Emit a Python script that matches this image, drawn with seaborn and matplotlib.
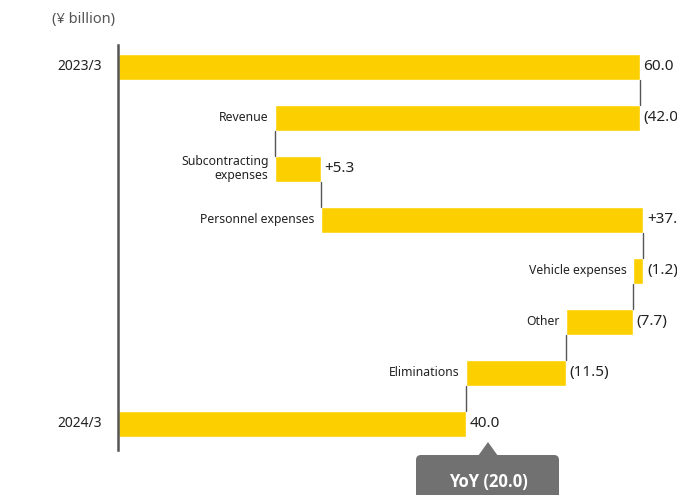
import numpy as np
import pandas as pd
import matplotlib
matplotlib.use("Agg")
import matplotlib.pyplot as plt
from matplotlib.patches import FancyBboxPatch, Polygon
import seaborn as sns

# datos del puente (¥ billion)
etiquetas = ["2023/3", "Revenue", "Subcontracting\nexpenses", "Personnel expenses",
             "Vehicle expenses", "Other", "Eliminations", "2024/3"]
valores = [60.0, -42.0, 5.3, 37.1, -1.2, -7.7, -11.5, 40.0]
textos = ["60.0", "(42.0)", "+5.3", "+37.1", "(1.2)", "(7.7)", "(11.5)", "40.0"]
es_total = [True, False, False, False, False, False, False, True]
yoy_texto = "YoY (20.0)"

# calcular inicio y fin de cada barra
inicio, fin = [], []
acum = 0.0
for v, tot in zip(valores, es_total):
    if tot:
        inicio.append(0.0)
        fin.append(v)
        acum = v
    else:
        inicio.append(acum)
        acum = acum + v
        fin.append(acum)

df = pd.DataFrame({
    "item": etiquetas,
    "alto": np.maximum(inicio, fin),
    "bajo": np.minimum(inicio, fin),
})

sns.set_theme(style="white")
plt.rcParams["font.family"] = ["Noto Sans", "DejaVu Sans"]

fig = plt.figure(figsize=(6.77, 4.95), dpi=100)
ax = fig.add_axes([118 / 677, 1 - 450 / 495, 1 - 118 / 677, (450 - 45) / 495])

amarillo = "#FCD000"
gris = "#555555"

# barras flotantes: amarillo hasta el maximo, blanco hasta el minimo
sns.barplot(data=df, x="alto", y="item", color=amarillo, width=0.5,
            saturation=1, ax=ax, orient="h")
sns.barplot(data=df, x="bajo", y="item", color="white", width=0.5,
            saturation=1, ax=ax, orient="h")

ax.set_xlim(0, 559 / 8.7)
ax.set_ylim(7.51, -0.43)
ax.set_xlabel("")
ax.set_ylabel("")
ax.set_xticks([])
ax.set_yticks([])
for s in ["top", "right", "bottom"]:
    ax.spines[s].set_visible(False)
ax.spines["left"].set_color(gris)
ax.spines["left"].set_linewidth(1.8)

# conectores
for i in range(len(etiquetas) - 1):
    ax.plot([fin[i], fin[i]], [i + 0.25, i + 0.75], color=gris, lw=1, zorder=3)

# etiquetas
for i, lab in enumerate(etiquetas):
    izq = min(inicio[i], fin[i])
    der = max(inicio[i], fin[i])
    if es_total[i]:
        ax.text(-1.9, i, lab, ha="right", va="center", fontsize=10, color="#222222")
    else:
        ax.text(izq - 0.7, i, lab, ha="right", va="center", fontsize=8.8,
                color="#222222", linespacing=1.1)
    ax.text(der + 0.4, i, textos[i], ha="left", va="center", fontsize=11,
            color="#222222", clip_on=False)

fig.text(52 / 677, 1 - 20 / 495, "(¥ billion)", ha="left", va="center",
         fontsize=10.5, color="#555555")

# globo YoY (coordenadas en pixeles de la figura)
gris_globo = "#717171"
caja = FancyBboxPatch((416, -10), 143, 495 - 455 + 10,
                      boxstyle="round,pad=0,rounding_size=5",
                      transform=None, facecolor=gris_globo, edgecolor="none")
fig.patches.append(caja)
tri = Polygon([[478, 495 - 456], [498, 495 - 456], [488, 495 - 442]], closed=True,
              transform=None, facecolor=gris_globo, edgecolor="none")
fig.patches.append(tri)
fig.text(488 / 677, 1 - 482 / 495, yoy_texto, ha="center", va="center",
         fontsize=12, color="white", fontweight="bold",
         family=["Open Sans", "DejaVu Sans"])

plt.savefig("out.png", dpi=100)
